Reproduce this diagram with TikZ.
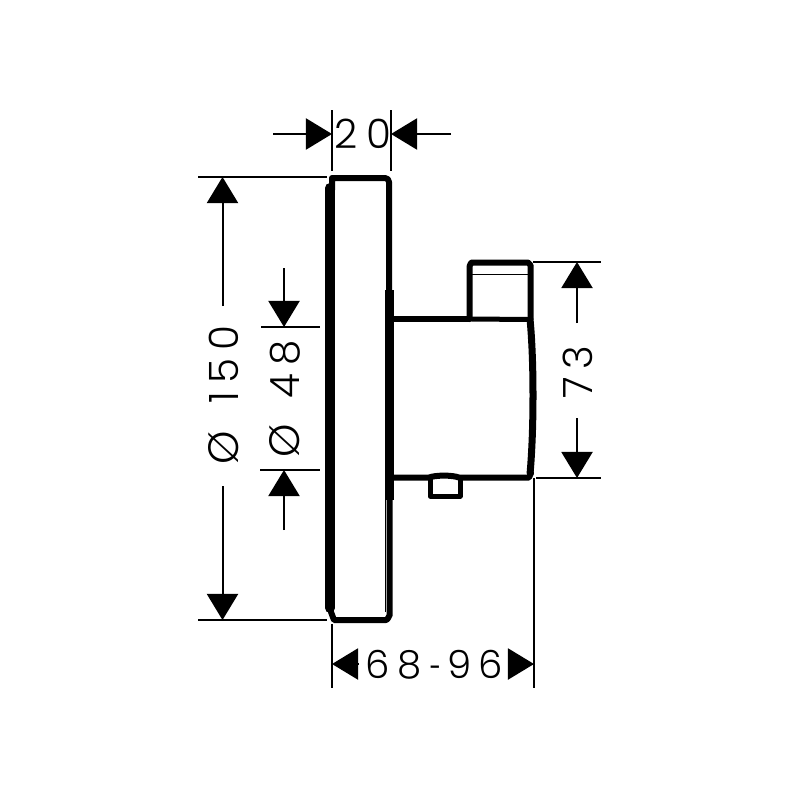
\documentclass[tikz,border=0pt]{standalone}
\usepackage{fontspec}
\usepackage{graphicx}
\newfontfamily\dimfont[LetterSpace=20]{Poppins Light}
\usetikzlibrary{arrows.meta}
\tikzset{
  dimtext/.style={font=\dimfont\fontsize{11.5}{14}\selectfont,inner sep=0pt,text=black},
  thinline/.style={line width=0.02cm,black},
  dimarrow/.style={thinline,-{Triangle[length=0.26cm,width=0.31cm]}},
  edge1/.style={line width=0.06cm,black,line cap=round,line join=round},
  edge2/.style={line width=0.05cm,black,line cap=round,line join=round},
  hair/.style={line width=0.015cm,black},
}
\begin{document}
\begin{tikzpicture}[x=0.01cm,y=-0.01cm]
\useasboundingbox (0,0) rectangle (800,800);
% free ends
\coordinate (a1) at (273,134); \coordinate (a1t) at (332,134);
\coordinate (a2) at (451,134); \coordinate (a2t) at (391,134);
\coordinate (e1a) at (332,110); \coordinate (e1b) at (332,171);
\coordinate (e2a) at (391,110); \coordinate (e2b) at (391,171);
\coordinate (b1) at (222.5,306); \coordinate (b1t) at (222.5,177);
\coordinate (b2) at (222.5,486); \coordinate (b2t) at (222.5,620);
\coordinate (f1a) at (198,177); \coordinate (f1b) at (327,177);
\coordinate (f2a) at (198,620); \coordinate (f2b) at (327,620);
\coordinate (c1) at (284,268); \coordinate (c1t) at (284,327);
\coordinate (c2) at (284,530); \coordinate (c2t) at (284,470);
\coordinate (g1a) at (261,327); \coordinate (g1b) at (320,327);
\coordinate (g2a) at (260,470); \coordinate (g2b) at (320,470);
\coordinate (d1) at (577,323); \coordinate (d1t) at (577,262);
\coordinate (d2) at (577,418); \coordinate (d2t) at (577,478);
\coordinate (h1a) at (533,262); \coordinate (h1b) at (601,262);
\coordinate (h2a) at (536,478); \coordinate (h2b) at (601,478);
\coordinate (i1a) at (332,624); \coordinate (i1b) at (332,688);
\coordinate (i2a) at (534,478); \coordinate (i2b) at (534,688);
\coordinate (j1) at (358,664); \coordinate (j1t) at (332,664);
\coordinate (j2) at (508,664); \coordinate (j2t) at (534,664);
% plate
\draw[line width=0.1cm,black,line cap=round] (330,188) -- (330,608);
\draw[edge1] (332,190) -- (332,178) -- (385,178) to[out=0,in=90] (389,182) -- (389,290);
\draw[line width=0.075cm,black] (390.2,290) -- (390.2,500);
\draw[edge1] (389.5,500) -- (389.5,616) to[out=90,in=0] (386,620) -- (334,620) -- (331,612);
\draw[hair] (385.3,290) -- (385.3,612);
% body
\draw[edge1] (394,319) -- (469.5,319);
\draw[edge1] (469.5,319) -- (469.5,266) to[out=-90,in=180] (472,262.5) -- (528,262.5) to[out=0,in=-90] (530.5,265) -- (530.5,319);
\draw[hair] (472,274.5) -- (528,274.5);
\draw[edge2] (472,319) -- (528,319.5);
\draw[line width=0.07cm,black] (530,319) .. controls (534,360) and (534,430) .. (530,474);
\draw[edge1] (394,477.5) -- (429,477.5) .. controls (436,475) and (452,475) .. (459,477.5) -- (529,477.5) -- (531,473);
\draw[line width=0.05cm,black,line join=round] (430,478) -- (430,496) -- (460,496) -- (460,478);
% extension lines
\draw[thinline] (e1a) -- (e1b);
\draw[thinline] (e2a) -- (e2b);
\draw[thinline] (f1a) -- (f1b);
\draw[thinline] (f2a) -- (f2b);
\draw[thinline] (g1a) -- (g1b);
\draw[thinline] (g2a) -- (g2b);
\draw[thinline] (h1a) -- (h1b);
\draw[thinline] (h2a) -- (h2b);
\draw[thinline] (i1a) -- (i1b);
\draw[thinline] (i2a) -- (i2b);
% arrows
\draw[dimarrow] (a1) -- (a1t);
\draw[dimarrow] (a2) -- (a2t);
\draw[dimarrow] (b1) -- (b1t);
\draw[dimarrow] (b2) -- (b2t);
\draw[dimarrow] (c1) -- (c1t);
\draw[dimarrow] (c2) -- (c2t);
\draw[dimarrow] (d1) -- (d1t);
\draw[dimarrow] (d2) -- (d2t);
\draw[dimarrow] (j1) -- (j1t);
\draw[dimarrow] (j2) -- (j2t);
% labels
\node[dimtext] (t20) at (363,134) {20};
\node[dimtext,rotate=90] (t150) at (224,395) {\scalebox{1.05}{Ø}\hspace{8pt}150};
\node[dimtext,rotate=90] (t48) at (285,399) {\scalebox{1.05}{Ø}\hspace{7.5pt}48};
\node[dimtext,rotate=90] (t73) at (578,372) {73};
\node[dimtext] (t68) at (434.5,666) {\fontsize{11}{14}\selectfont 68\hspace{2.5pt}\raisebox{-1pt}{\scalebox{0.55}[1]{-}}\hspace{1.5pt}96};
\end{tikzpicture}
\end{document}
